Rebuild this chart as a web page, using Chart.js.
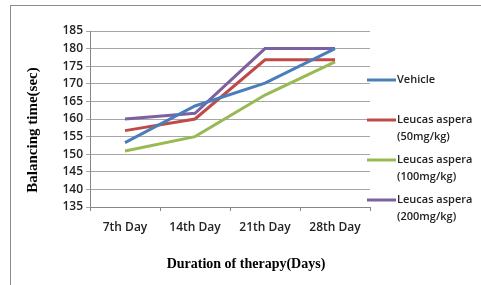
<!DOCTYPE html>
<html>
<head>
<meta charset="utf-8">
<script src="https://cdn.jsdelivr.net/npm/chart.js@4/dist/chart.umd.min.js"></script>
<style>
  html, body { margin: 0; padding: 0; background: #fff; }
  #wrap { width: 481px; height: 285px; position: relative; }
</style>
</head>
<body>
<div id="wrap"><canvas id="lineChart" width="481" height="285"></canvas></div>
<script>
// Data
const days = ['7th Day', '14th Day', '21th Day', '28th Day'];
const vehicle = [153.3, 163.7, 170.2, 180];
const la50 = [156.7, 160, 176.8, 176.8];
const la100 = [150.9, 155, 166.8, 176.2];
const la200 = [160, 161.6, 180, 180];
const yTicks = [135, 140, 145, 150, 155, 160, 165, 170, 175, 180, 185];
const seriesNames = [['Vehicle'], ['Leucas aspera', '(50mg/kg)'], ['Leucas aspera', '(100mg/kg)'], ['Leucas aspera', '(200mg/kg)']];
const colors = ['#4a7ebb', '#be4b48', '#98b954', '#7d60a0'];

const tickFont = { family: 'Open Sans', size: 12, weight: '600' };

// frame, axis titles and the side legend
const extras = {
    id: 'extras',
    beforeDraw(chart) {
        const ctx = chart.ctx;
        ctx.save();
        ctx.strokeStyle = '#8c8c8c';
        ctx.lineWidth = 1;
        ctx.strokeRect(10.5, 5.5, 520, 320);
        ctx.restore();
    },
    afterDraw(chart) {
        const ctx = chart.ctx;
        const area = chart.chartArea;
        ctx.save();
        ctx.fillStyle = '#000';
        ctx.font = 'bold 14px "Liberation Serif"';
        ctx.textAlign = 'center';
        ctx.textBaseline = 'middle';
        ctx.fillText('Duration of therapy(Days)', (area.left + area.right) / 2 + 16, area.bottom + 57);
        ctx.font = 'bold 15px "Liberation Serif"';
        ctx.translate(33, (area.top + area.bottom) / 2 + 11);
        ctx.rotate(-Math.PI / 2);
        ctx.fillText('Balancing time(sec)', 0, 0);
        ctx.restore();

        ctx.save();
        ctx.font = '600 11px "Open Sans"';
        ctx.textAlign = 'left';
        ctx.textBaseline = 'middle';
        chart.data.datasets.forEach((ds, i) => {
            const y = 80 + i * 40;
            ctx.strokeStyle = ds.borderColor;
            ctx.lineWidth = 3;
            ctx.beginPath();
            ctx.moveTo(area.right - 3, y);
            ctx.lineTo(area.right + 26, y);
            ctx.stroke();
            ctx.fillStyle = '#222';
            seriesNames[i].forEach((t, j) => ctx.fillText(t, area.right + 27, y + j * 17));
        });
        ctx.restore();
    }
};

const lineCtx = document.getElementById('lineChart');
new Chart(lineCtx, {
    type: 'line',
    data: {
        labels: days,
        datasets: [vehicle, la50, la100, la200].map((d, i) => ({
            label: seriesNames[i].join(' '),
            data: d,
            borderColor: colors[i],
            backgroundColor: colors[i],
            borderWidth: 3,
            pointRadius: 0,
            tension: 0
        }))
    },
    options: {
        responsive: false,
        animation: false,
        layout: { padding: { left: 0, right: 111, top: 31, bottom: 0 } },
        plugins: { legend: { display: false }, tooltip: { enabled: false } },
        scales: {
            x: {
                offset: true,
                grid: { offset: true, drawOnChartArea: false, drawTicks: true, tickLength: 4, color: '#868686' },
                border: { color: '#868686', width: 1 },
                ticks: { color: '#222', font: tickFont, padding: 9 },
                afterFit(s) { s.height = 78; }
            },
            y: {
                min: 135,
                max: 185,
                afterBuildTicks(s) { s.ticks = yTicks.map(v => ({ value: v })); },
                grid: { color: '#a6a6a6', lineWidth: 1, tickLength: 4 },
                border: { color: '#868686', width: 1 },
                ticks: { color: '#222', font: tickFont, padding: 3 },
                afterFit(s) { s.width = 90; }
            }
        }
    },
    plugins: [extras]
});
</script>
</body>
</html>
